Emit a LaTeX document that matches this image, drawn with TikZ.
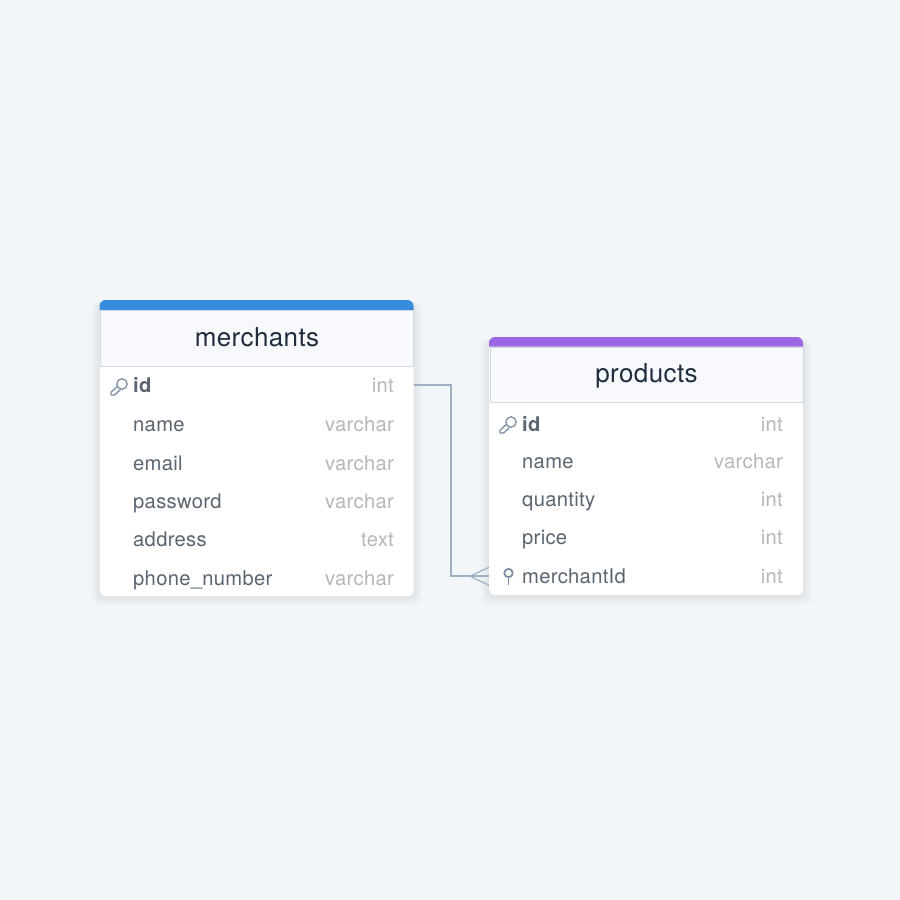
\documentclass[tikz,border=0pt]{standalone}
\usepackage{fontspec}
\setmainfont{TeX Gyre Heros}[LetterSpace=1.5]
\usetikzlibrary{positioning}
\definecolor{canvasbg}{HTML}{F2F6F9}
\definecolor{headbg}{HTML}{F7F9FC}
\definecolor{headline}{HTML}{CFD8E3}
\definecolor{titletext}{HTML}{1F2D3D}
\definecolor{fieldtext}{HTML}{5A6570}
\definecolor{idtext}{HTML}{4F5D6B}
\definecolor{typetext}{HTML}{B4B8BC}
\definecolor{reftable}{HTML}{A0B0C4}
\definecolor{iconline}{HTML}{7F8FA3}
\definecolor{bandblue}{HTML}{368DDB}
\definecolor{bandpurple}{HTML}{9B66E2}
\tikzset{
    tablebody/.style={fill=white,rounded corners=6pt,minimum width=314pt,anchor=north west,inner sep=0pt},
    headbox/.style={fill=headbg,draw=headline,line width=1pt,minimum width=313pt,minimum height=55.5pt,inner sep=0pt,anchor=north west,
        text height=18pt,text depth=2pt,font=\fontsize{26}{28}\selectfont,text=titletext},
    rowbox/.style={minimum width=314pt,minimum height=38pt,inner sep=0pt,anchor=north west},
    fieldname/.style={anchor=base west,inner sep=0pt,font=\fontsize{20.2}{23}\selectfont,text=fieldtext},
    fieldtype/.style={anchor=base east,inner sep=0pt,font=\fontsize{20.2}{23}\selectfont,text=typetext},
    refline/.style={draw=reftable,line width=1.9pt},
    keyicon/.pic={
        \draw[iconline,line width=1.3pt] (3,-3) circle (5.2pt);
        \draw[iconline,line width=1.3pt,line join=round] (-1.2,-1) -- (-8,5.2) -- (-8,8) -- (-4.4,8) -- (1.4,2.6);
    },
    pinicon/.pic={
        \draw[iconline,line width=1.8pt] (0,-2.5) circle (4.2pt);
        \draw[iconline,line width=1.8pt] (0,1.7) -- (0,9);
    },
}
\newcommand{\softshadow}[4]{% x, top, x2, bottom
    \foreach \grow in {1,2,...,9}
        \fill[black,opacity=0.009,rounded corners=8pt] (#1-\grow,#2+2) rectangle (#3+\grow,#4+\grow+1);
}
\begin{document}
\begin{tikzpicture}[x=1pt,y=-1pt]
    \fill[canvasbg] (0,0) rectangle (900,900);
    \useasboundingbox (0,0) rectangle (900,900);

    % merchants table
    \softshadow{100}{300}{413.5}{596}
    \node[tablebody,minimum height=296pt] (merchants) at (99.5,300) {};
    \fill[bandblue] (99.5,310) -- (99.5,306) arc[start angle=180,end angle=90,radius=6pt] -- (407.5,300)
        arc[start angle=90,end angle=0,radius=6pt] -- (413.5,310) -- cycle;
    \node[headbox] (merchantshead) at (100,310) {merchants};
    \foreach \rowname/\rowy/\fieldlabel/\typelabel in {
        mid/366/\textbf{id}/int,
        mname/405.5/name/varchar,
        memail/444/email/varchar,
        mpassword/482/password/varchar,
        maddress/520/address/text,
        mphone/559/phone\_number/varchar}
    {
        \node[rowbox] (\rowname) at (99.5,\rowy) {};
        \node[fieldname] at (133,\rowy+26) {\fieldlabel};
        \node[fieldtype] at (394,\rowy+26) {\typelabel};
    }
    \pic at (119,387) {keyicon};

    % products table
    \softshadow{489}{337}{803}{595}
    \node[tablebody,minimum height=258pt] (products) at (489,337) {};
    \fill[bandpurple] (489,346.5) -- (489,343) arc[start angle=180,end angle=90,radius=6pt] -- (797,337)
        arc[start angle=90,end angle=0,radius=6pt] -- (803,346.5) -- cycle;
    \node[headbox] (productshead) at (489.5,346.5) {products};
    \foreach \rowname/\rowy/\fieldlabel/\typelabel in {
        pid/405/\textbf{id}/int,
        pname/442.5/name/varchar,
        pquantity/480.5/quantity/int,
        pprice/518.5/price/int,
        pmerchant/557/merchantId/int}
    {
        \node[rowbox] (\rowname) at (489,\rowy) {};
        \node[fieldname] at (522,\rowy+26) {\fieldlabel};
        \node[fieldtype] at (783,\rowy+26) {\typelabel};
    }
    \pic at (508,425) {keyicon};
    \pic at (508.5,575.5) {pinicon};

    % reference, with crow foot at the many side
    \coordinate (crowtip) at ([xshift=-19pt]pmerchant.west);
    \draw[refline] (mid.east) -- ++(37.5,0) |- (pmerchant.west);
    \draw[refline,line width=1.2pt] (crowtip) -- ([yshift=-9pt]pmerchant.west);
    \draw[refline,line width=1.2pt] (crowtip) -- ([yshift=9pt]pmerchant.west);
\end{tikzpicture}
\end{document}
